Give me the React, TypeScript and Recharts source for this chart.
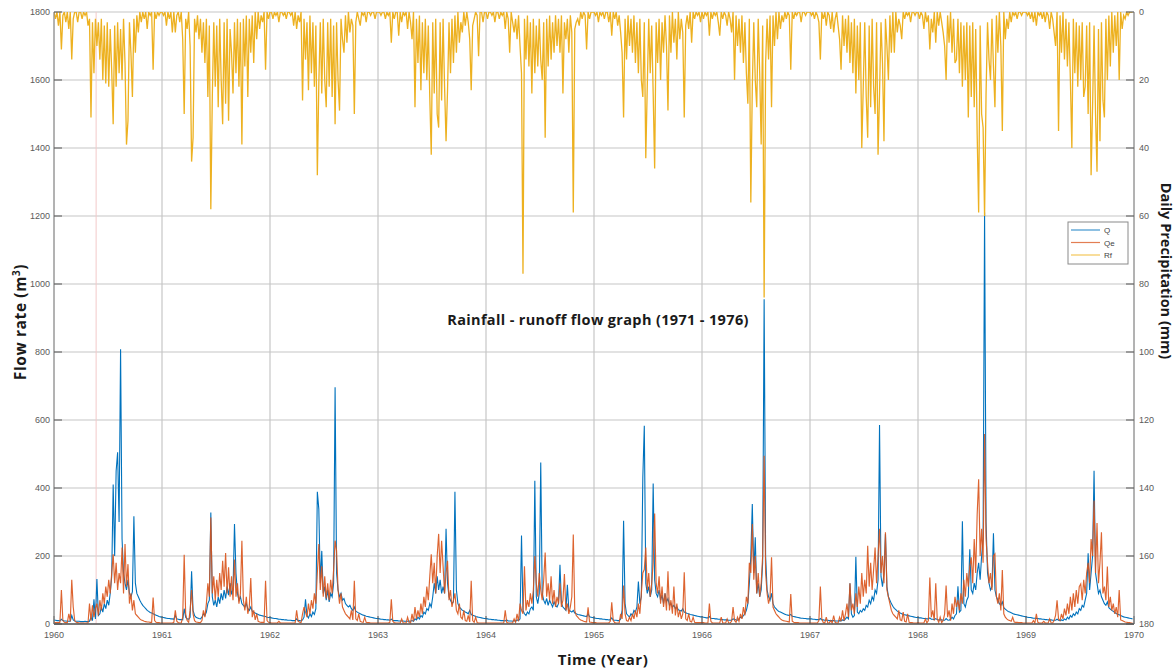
import { LineChart, Line, XAxis, YAxis, CartesianGrid, ReferenceLine } from "recharts";

// values, one entry per 5-day step (73 per year)
const YEARS = [1960, 1961, 1962, 1963, 1964, 1965, 1966, 1967, 1968, 1969];
const YEAR_TICKS = [1960, 1961, 1962, 1963, 1964, 1965, 1966, 1967, 1968, 1969, 1970];
const FLOW_TICKS = [0, 200, 400, 600, 800, 1000, 1200, 1400, 1600, 1800];
const RAIN_TICKS = [0, 20, 40, 60, 80, 100, 120, 140, 160, 180];

const Q_1960 = [
  12, 11, 10, 10, 9, 14, 10, 9, 9, 8,
  8, 8, 25, 12, 9, 8, 8, 8, 7, 7,
  7, 8, 7, 7, 8, 20, 10, 73, 15, 132,
  25, 30, 50, 35, 60, 45, 70, 55, 90, 140,
  410, 200, 450, 505, 300, 808, 250, 150, 120, 100,
  130, 90, 80, 95, 317, 120, 90, 80, 70, 62,
  55, 50, 45, 40, 37, 34, 32, 30, 28, 26,
  24, 22, 21,
];
const QE_1960 = [
  5, 4, 4, 4, 5, 100, 10, 5, 4, 4,
  30, 8, 130, 50, 10, 5, 4, 3, 3, 3,
  3, 3, 3, 3, 60, 10, 55, 20, 45, 60,
  25, 70, 40, 90, 60, 110, 80, 130, 90, 150,
  205, 120, 180, 100, 150, 120, 225, 90, 235, 110,
  176, 60, 90, 40, 70, 30, 25, 20, 15, 12,
  10, 8, 7, 6, 6, 5, 5, 78, 10, 5,
  4, 4, 3,
];
const RF_1960 = [
  0, 2, 0, 4, 0, 11, 1, 0, 3, 0,
  5, 0, 14, 2, 0, 0, 3, 0, 0, 2,
  0, 1, 0, 4, 2, 31, 3, 18, 2, 10,
  3, 14, 2, 20, 4, 21, 3, 22, 5, 17,
  33, 4, 22, 3, 18, 5, 20, 2, 15, 39,
  32, 3, 12, 25, 2, 12, 1, 6, 0, 3,
  0, 2, 0, 5, 0, 1, 0, 17, 0, 2,
  0, 1, 0,
];

const Q_1961 = [
  20, 19, 18, 17, 16, 16, 15, 15, 14, 25,
  15, 14, 13, 13, 12, 45, 20, 15, 14, 20,
  155, 40, 25, 20, 18, 16, 15, 20, 30, 25,
  35, 60, 70, 328, 80, 55, 70, 50, 80, 60,
  90, 70, 100, 75, 110, 85, 120, 90, 100, 294,
  150, 90, 70, 80, 60, 55, 50, 60, 45, 40,
  50, 38, 35, 32, 30, 28, 26, 25, 24, 23,
  22, 20, 19,
];
const QE_1961 = [
  3, 3, 3, 3, 3, 3, 3, 3, 5, 40,
  8, 4, 3, 3, 20, 204, 30, 10, 5, 40,
  100, 30, 10, 6, 5, 4, 4, 10, 40, 20,
  60, 120, 80, 313, 90, 140, 70, 130, 80, 150,
  100, 186, 110, 209, 90, 167, 80, 140, 70, 190,
  80, 120, 60, 90, 245, 70, 40, 80, 30, 50,
  135, 20, 40, 12, 30, 8, 6, 5, 5, 5,
  127, 10, 5,
];
const RF_1961 = [
  0, 1, 0, 4, 0, 2, 0, 6, 0, 6,
  1, 0, 3, 0, 8, 30, 2, 5, 0, 10,
  44, 37, 2, 6, 1, 8, 2, 12, 3, 15,
  2, 25, 4, 58, 25, 3, 22, 4, 28, 2,
  20, 33, 3, 27, 2, 32, 5, 12, 24, 3,
  18, 2, 22, 3, 39, 2, 16, 1, 25, 2,
  12, 1, 15, 0, 8, 0, 5, 1, 3, 0,
  17, 0, 2,
];

const Q_1962 = [
  19, 18, 17, 16, 16, 15, 14, 14, 13, 13,
  12, 12, 11, 11, 11, 10, 10, 10, 15, 10,
  10, 9, 12, 20, 73, 25, 18, 30, 22, 35,
  28, 45, 389, 338, 120, 215, 90, 110, 70, 100,
  65, 90, 80, 120, 696, 150, 100, 80, 90, 70,
  75, 60, 55, 50, 55, 45, 40, 50, 38, 35,
  32, 30, 28, 26, 25, 23, 22, 21, 20, 19,
  18, 17, 16,
];
const QE_1962 = [
  4, 3, 3, 3, 3, 3, 8, 3, 3, 3,
  3, 3, 3, 3, 3, 3, 3, 3, 40, 8,
  5, 4, 30, 50, 35, 20, 60, 30, 70, 45,
  90, 60, 150, 235, 100, 170, 80, 140, 75, 120,
  70, 130, 90, 160, 245, 215, 100, 60, 90, 50,
  40, 30, 25, 20, 15, 40, 12, 127, 15, 10,
  30, 8, 6, 5, 20, 5, 4, 4, 3, 3,
  3, 3, 3,
];
const RF_1962 = [
  0, 0, 2, 0, 1, 0, 3, 0, 0, 1,
  0, 2, 0, 0, 1, 0, 4, 0, 5, 1,
  3, 0, 26, 2, 14, 3, 23, 1, 18, 3,
  22, 4, 48, 21, 3, 24, 2, 20, 28, 3,
  22, 2, 25, 4, 33, 3, 20, 29, 2, 8,
  12, 1, 9, 0, 6, 2, 4, 30, 3, 0,
  2, 4, 0, 1, 0, 3, 0, 0, 1, 0,
  0, 2, 0,
];

const Q_1963 = [
  16, 15, 14, 14, 13, 13, 12, 12, 11, 14,
  11, 10, 10, 10, 9, 9, 9, 9, 8, 8,
  8, 9, 8, 10, 8, 15, 12, 20, 15, 25,
  20, 35, 30, 45, 40, 60, 50, 80, 120, 90,
  140, 100, 130, 90, 110, 90, 280, 120, 80, 70,
  60, 65, 389, 100, 60, 50, 45, 40, 38, 35,
  33, 30, 40, 28, 26, 24, 22, 21, 20, 19,
  18, 17, 16,
];
const QE_1963 = [
  3, 3, 3, 3, 3, 3, 3, 3, 5, 73,
  8, 4, 3, 3, 3, 3, 15, 3, 3, 3,
  20, 4, 3, 30, 8, 50, 15, 40, 20, 60,
  30, 80, 50, 110, 70, 140, 205, 120, 180, 90,
  200, 265, 150, 245, 170, 90, 150, 186, 70, 100,
  50, 70, 90, 40, 30, 60, 20, 15, 40, 10,
  8, 25, 6, 127, 10, 5, 20, 4, 3, 3,
  3, 3, 3,
];
const RF_1963 = [
  0, 0, 1, 0, 0, 2, 0, 1, 0, 9,
  0, 2, 0, 0, 7, 0, 3, 0, 1, 0,
  5, 0, 3, 8, 0, 28, 2, 15, 1, 23,
  3, 18, 2, 20, 4, 25, 42, 3, 24, 2,
  30, 34, 3, 26, 2, 22, 38, 23, 3, 18,
  2, 15, 1, 12, 0, 9, 3, 6, 0, 4,
  0, 3, 8, 23, 4, 2, 0, 1, 13, 0,
  0, 3, 0,
];

const Q_1964 = [
  16, 15, 14, 14, 13, 13, 12, 12, 11, 11,
  10, 10, 10, 9, 12, 9, 9, 9, 8, 10,
  8, 12, 10, 15, 260, 40, 30, 25, 35, 30,
  45, 50, 40, 421, 80, 60, 90, 475, 90, 70,
  60, 75, 55, 70, 60, 50, 65, 55, 50, 60,
  174, 60, 50, 45, 40, 115, 40, 38, 35, 40,
  32, 30, 28, 27, 26, 25, 24, 23, 22, 30,
  21, 20, 19,
];
const QE_1964 = [
  3, 3, 3, 3, 3, 3, 3, 3, 3, 3,
  3, 3, 3, 40, 5, 3, 3, 3, 3, 15,
  5, 30, 8, 60, 40, 30, 170, 40, 70, 50,
  90, 60, 100, 200, 120, 80, 150, 100, 70, 130,
  210, 80, 120, 70, 140, 60, 100, 50, 80, 60,
  120, 50, 70, 147, 40, 60, 30, 50, 80, 263,
  40, 25, 20, 15, 12, 10, 8, 7, 6, 49,
  6, 5, 4,
];
const RF_1964 = [
  0, 2, 0, 0, 1, 0, 3, 0, 0, 2,
  0, 1, 0, 5, 0, 2, 12, 0, 3, 6,
  2, 8, 1, 10, 18, 77, 2, 14, 1, 16,
  3, 24, 2, 18, 4, 16, 2, 14, 20, 3,
  37, 2, 16, 1, 14, 3, 12, 1, 10, 2,
  12, 1, 24, 3, 8, 2, 12, 1, 6, 59,
  5, 3, 2, 4, 0, 2, 0, 1, 11, 0,
  2, 0, 0,
];

const Q_1965 = [
  18, 17, 16, 16, 15, 15, 14, 14, 13, 13,
  12, 12, 18, 12, 11, 11, 10, 10, 15, 40,
  304, 60, 30, 25, 20, 30, 25, 40, 35, 50,
  125, 60, 80, 431, 583, 120, 90, 110, 80, 100,
  413, 130, 90, 80, 100, 70, 85, 60, 90, 65,
  75, 55, 60, 50, 55, 45, 50, 42, 40, 38,
  45, 35, 33, 31, 30, 28, 27, 26, 25, 24,
  23, 22, 21,
];
const QE_1965 = [
  4, 4, 3, 3, 3, 3, 3, 3, 3, 3,
  3, 8, 64, 10, 4, 3, 3, 3, 30, 15,
  113, 30, 10, 8, 20, 10, 30, 15, 40, 20,
  60, 30, 90, 150, 160, 225, 100, 150, 80, 120,
  180, 325, 120, 90, 140, 60, 110, 50, 90, 40,
  155, 40, 70, 30, 110, 25, 60, 20, 40, 15,
  30, 152, 15, 10, 30, 8, 6, 20, 5, 4,
  4, 4, 4,
];
const RF_1965 = [
  0, 1, 0, 3, 0, 1, 0, 2, 0, 0,
  3, 0, 7, 0, 2, 0, 4, 1, 6, 12,
  31, 2, 14, 1, 10, 2, 12, 1, 15, 3,
  18, 2, 20, 25, 3, 43, 22, 2, 18, 4,
  24, 46, 3, 15, 2, 20, 3, 12, 1, 10,
  29, 1, 12, 0, 9, 2, 14, 0, 8, 2,
  6, 31, 4, 1, 5, 0, 9, 0, 2, 0,
  1, 0, 3,
];

const Q_1966 = [
  21, 20, 19, 18, 18, 22, 17, 16, 16, 15,
  15, 14, 14, 13, 13, 12, 12, 12, 11, 11,
  11, 15, 14, 12, 11, 15, 20, 18, 25, 30,
  40, 60, 120, 200, 353, 150, 255, 90, 120, 80,
  100, 180, 955, 200, 100, 80, 70, 90, 60, 50,
  45, 40, 37, 35, 33, 31, 29, 27, 26, 25,
  28, 23, 22, 21, 20, 19, 18, 17, 17, 16,
  16, 15, 15,
];
const QE_1966 = [
  4, 4, 3, 3, 3, 60, 8, 3, 3, 3,
  3, 3, 3, 20, 3, 3, 3, 15, 3, 3,
  8, 50, 10, 5, 20, 8, 30, 15, 50, 25,
  80, 60, 180, 150, 294, 130, 200, 90, 150, 80,
  120, 200, 495, 150, 90, 60, 80, 196, 50, 40,
  30, 25, 20, 15, 12, 10, 9, 8, 7, 6,
  88, 8, 5, 4, 4, 4, 3, 3, 3, 3,
  3, 3, 3,
];
const RF_1966 = [
  0, 2, 0, 1, 0, 7, 0, 2, 0, 1,
  0, 3, 7, 0, 2, 0, 1, 4, 0, 2,
  6, 0, 20, 1, 10, 2, 12, 1, 15, 3,
  18, 27, 2, 56, 22, 3, 20, 28, 2, 18,
  39, 4, 84, 15, 2, 14, 1, 28, 1, 10,
  0, 8, 0, 5, 1, 3, 0, 2, 0, 1,
  17, 0, 2, 0, 1, 0, 0, 3, 0, 0,
  1, 0, 0,
];

const Q_1967 = [
  15, 15, 14, 14, 13, 13, 13, 16, 12, 12,
  11, 11, 11, 10, 10, 10, 10, 9, 9, 9,
  10, 9, 12, 10, 15, 20, 15, 120, 30, 20,
  25, 198, 35, 30, 40, 35, 45, 40, 55, 50,
  70, 60, 80, 70, 100, 90, 130, 585, 140, 110,
  150, 265, 110, 80, 70, 60, 52, 46, 42, 38,
  35, 32, 30, 28, 27, 26, 25, 24, 23, 22,
  21, 20, 19,
];
const QE_1967 = [
  3, 3, 3, 3, 3, 3, 10, 110, 15, 4,
  3, 20, 3, 3, 10, 3, 25, 5, 3, 3,
  20, 8, 40, 10, 30, 60, 20, 120, 40, 60,
  30, 90, 50, 110, 60, 150, 80, 130, 90, 230,
  110, 180, 100, 160, 225, 120, 200, 280, 150, 200,
  120, 270, 100, 80, 60, 40, 30, 25, 20, 15,
  40, 12, 10, 35, 8, 6, 30, 5, 4, 4,
  3, 3, 3,
];
const RF_1967 = [
  0, 1, 0, 2, 0, 1, 3, 14, 0, 2,
  0, 4, 0, 1, 5, 0, 6, 2, 0, 4,
  8, 17, 1, 10, 2, 12, 1, 15, 3, 18,
  2, 24, 4, 20, 3, 40, 22, 3, 25, 37,
  4, 28, 2, 22, 30, 3, 42, 24, 3, 15,
  38, 2, 10, 20, 1, 12, 0, 12, 0, 6,
  2, 4, 8, 0, 2, 0, 1, 0, 3, 0,
  0, 1, 0,
];

const Q_1968 = [
  19, 18, 18, 17, 16, 16, 15, 15, 18, 14,
  14, 13, 16, 13, 12, 12, 12, 11, 11, 16,
  12, 11, 14, 20, 15, 25, 30, 111, 35, 40,
  302, 60, 50, 70, 80, 220, 100, 90, 120, 100,
  150, 180, 130, 200, 250, 1210, 300, 150, 120, 100,
  110, 267, 100, 80, 70, 60, 55, 65, 48, 44,
  40, 37, 35, 33, 31, 29, 28, 27, 26, 25,
  24, 23, 22,
];
const QE_1968 = [
  4, 3, 3, 3, 3, 15, 3, 10, 137, 20,
  40, 10, 120, 15, 5, 20, 4, 10, 30, 113,
  20, 40, 10, 60, 30, 80, 50, 70, 40, 90,
  60, 130, 80, 150, 110, 170, 196, 120, 250, 150,
  323, 426, 200, 280, 180, 559, 250, 180, 120, 150,
  100, 200, 206, 80, 60, 90, 40, 159, 30, 20,
  15, 12, 10, 8, 20, 6, 5, 5, 4, 4,
  4, 3, 3,
];
const RF_1968 = [
  0, 2, 0, 1, 5, 0, 3, 1, 11, 2,
  6, 0, 9, 0, 4, 0, 3, 6, 10, 20,
  1, 9, 0, 12, 2, 15, 14, 2, 18, 3,
  22, 4, 20, 3, 31, 4, 25, 3, 28, 5,
  36, 59, 4, 30, 34, 60, 24, 3, 14, 20,
  2, 16, 28, 1, 12, 0, 10, 35, 0, 8,
  2, 5, 0, 3, 0, 1, 0, 2, 0, 0,
  1, 0, 0,
];

const Q_1969 = [
  21, 20, 19, 19, 18, 17, 17, 16, 16, 15,
  15, 14, 14, 13, 13, 12, 12, 12, 11, 11,
  11, 14, 11, 10, 12, 10, 15, 12, 20, 15,
  25, 20, 30, 25, 35, 30, 45, 40, 55, 50,
  70, 90, 208, 100, 150, 200, 451, 150, 120, 90,
  100, 80, 70, 60, 55, 65, 48, 44, 40, 37,
  34, 31, 29, 27, 25, 23, 21, 20, 19, 18,
  17, 16, 15,
];
const QE_1969 = [
  3, 3, 3, 3, 3, 10, 3, 30, 5, 3,
  3, 3, 8, 3, 3, 3, 15, 3, 3, 10,
  25, 70, 15, 10, 30, 15, 45, 25, 60, 30,
  80, 40, 90, 50, 100, 60, 110, 118, 70, 130,
  90, 150, 180, 120, 250, 200, 363, 150, 297, 120,
  180, 270, 90, 110, 70, 169, 50, 80, 40, 60,
  30, 50, 20, 100, 12, 10, 8, 6, 5, 4,
  4, 3, 3,
];
const RF_1969 = [
  0, 1, 0, 2, 0, 3, 0, 4, 0, 1,
  0, 2, 0, 3, 0, 1, 5, 0, 2, 6,
  10, 0, 35, 1, 12, 0, 14, 2, 16, 3,
  20, 40, 2, 18, 3, 22, 4, 20, 3, 25,
  22, 4, 30, 3, 48, 28, 4, 30, 47, 5,
  38, 3, 26, 31, 2, 20, 1, 16, 0, 12,
  1, 10, 0, 20, 0, 5, 1, 2, 0, 1,
  0, 0, 0,
];

const Q_BY_YEAR = [Q_1960, Q_1961, Q_1962, Q_1963, Q_1964, Q_1965, Q_1966, Q_1967, Q_1968, Q_1969];
const QE_BY_YEAR = [QE_1960, QE_1961, QE_1962, QE_1963, QE_1964, QE_1965, QE_1966, QE_1967, QE_1968, QE_1969];
const RF_BY_YEAR = [RF_1960, RF_1961, RF_1962, RF_1963, RF_1964, RF_1965, RF_1966, RF_1967, RF_1968, RF_1969];

const COLOR_Q = "#0072BD";
const COLOR_QE = "#D95319";
const COLOR_RF = "#EDB120";

const TITLE_FONT = "'Open Sans', 'Noto Sans', sans-serif";
const TICK_FONT = "'Liberation Sans', Arial, sans-serif";

function toSeries(byYear: number[][]) {
  const rows: { t: number; v: number }[] = [];
  byYear.forEach((values, k) => {
    values.forEach((v, i) => {
      rows.push({ t: YEARS[k] + i / values.length, v });
    });
  });
  return rows;
}

const qData = toSeries(Q_BY_YEAR);
const qeData = toSeries(QE_BY_YEAR);
const rfData = toSeries(RF_BY_YEAR);

const tickStyle = { fontSize: 9, fill: "#5a5a5a", fontFamily: TICK_FONT };

export default function App() {
  return (
    <div style={{ position: "absolute", left: 0, top: 0, width: 1175, height: 670, background: "#fff" }}>
      <LineChart width={1175} height={670} margin={{ top: 12, right: 0, bottom: 0, left: 0 }}>
        <CartesianGrid yAxisId="flow" stroke="#c6c6c6" strokeWidth={1.2} />
        <XAxis
          dataKey="t"
          type="number"
          domain={[1960, 1970]}
          ticks={YEAR_TICKS}
          interval={0}
          allowDataOverflow
          height={46}
          tickSize={-8}
          tickMargin={16}
          tick={tickStyle}
          tickLine={{ stroke: "#555" }}
          axisLine={{ stroke: "#555", strokeWidth: 1.5 }}
        />
        <YAxis
          yAxisId="flow"
          domain={[0, 1800]}
          ticks={FLOW_TICKS}
          interval={0}
          allowDataOverflow
          width={54}
          tickSize={-8}
          tickMargin={12}
          tick={tickStyle}
          tickLine={{ stroke: "#555" }}
          axisLine={{ stroke: "#888" }}
        />
        <YAxis
          yAxisId="rf"
          orientation="right"
          reversed
          domain={[0, 180]}
          ticks={RAIN_TICKS}
          interval={0}
          allowDataOverflow
          width={41}
          tickSize={-8}
          tickMargin={13}
          tick={tickStyle}
          tickLine={{ stroke: "#555" }}
          axisLine={{ stroke: "#888" }}
        />
        <ReferenceLine yAxisId="flow" x={1960.39} stroke="#f2c9c9" />
        <Line
          yAxisId="flow"
          data={qData}
          dataKey="v"
          name="Q"
          type="linear"
          stroke={COLOR_Q}
          strokeWidth={1.1}
          dot={false}
          isAnimationActive={false}
        />
        <Line
          yAxisId="flow"
          data={qeData}
          dataKey="v"
          name="Qe"
          type="linear"
          stroke={COLOR_QE}
          strokeWidth={1.15}
          strokeOpacity={0.9}
          dot={false}
          isAnimationActive={false}
        />
        <Line
          yAxisId="rf"
          data={rfData}
          dataKey="v"
          name="Rf"
          type="linear"
          stroke={COLOR_RF}
          strokeWidth={1.3}
          dot={false}
          isAnimationActive={false}
        />
      </LineChart>

      <svg
        width={1175}
        height={670}
        style={{ position: "absolute", left: 0, top: 0, pointerEvents: "none" }}
      >
        <text
          x={598}
          y={325}
          textAnchor="middle"
          fontFamily={TITLE_FONT}
          fontWeight={700}
          fontSize={14.5}
          letterSpacing={0.35}
          fill="#1a1a1a"
        >
          Rainfall - runoff flow graph (1971 - 1976)
        </text>
        <text
          transform="translate(26,322) rotate(-90)"
          textAnchor="middle"
          fontFamily={TITLE_FONT}
          fontWeight={700}
          fontSize={15.5}
          letterSpacing={0.6}
          fill="#1a1a1a"
        >
          Flow rate (m<tspan dy={-6} fontSize={10}>3</tspan>
          <tspan dy={6}>)</tspan>
        </text>
        <text
          transform="translate(1161,271) rotate(90)"
          textAnchor="middle"
          fontFamily={TITLE_FONT}
          fontWeight={700}
          fontSize={14.5}
          fill="#1a1a1a"
        >
          Daily Precipitation (mm)
        </text>
        <text
          x={603}
          y={665}
          textAnchor="middle"
          fontFamily={TITLE_FONT}
          fontWeight={700}
          fontSize={15}
          letterSpacing={0.5}
          fill="#1a1a1a"
        >
          Time (Year)
        </text>

        <g>
          <rect x={1068} y={222} width={60} height={42} fill="#fff" stroke="#8a8a8a" />
          {[
            { name: "Q", color: COLOR_Q },
            { name: "Qe", color: COLOR_QE },
            { name: "Rf", color: COLOR_RF },
          ].map((item, i) => (
            <g key={item.name}>
              <line
                x1={1071}
                x2={1100}
                y1={230 + i * 12.5}
                y2={230 + i * 12.5}
                stroke={item.color}
                strokeOpacity={0.75}
                strokeWidth={1.2}
              />
              <text
                x={1104}
                y={233 + i * 12.5}
                fontFamily={TICK_FONT}
                fontSize={8}
                fill="#444"
              >
                {item.name}
              </text>
            </g>
          ))}
        </g>
      </svg>
    </div>
  );
}
